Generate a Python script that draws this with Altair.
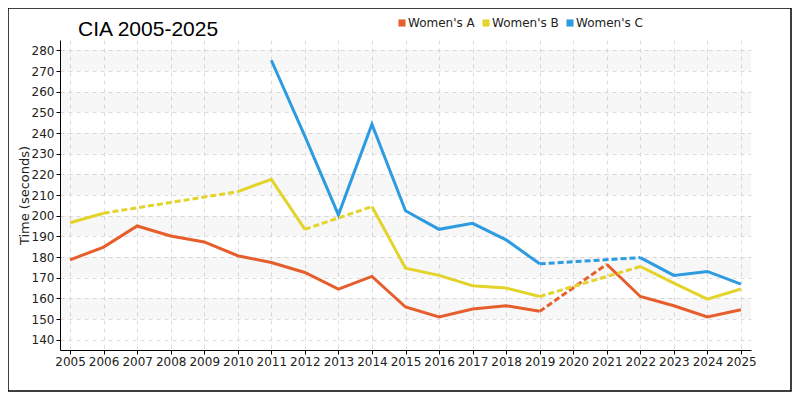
import altair as alt
import pandas as pd

years = list(range(2005, 2026))
series_names = ["Women's A", "Women's B", "Women's C"]
colors = ["#e65e2c", "#e3d42c", "#2d9be0"]
chart_title = "CIA 2005-2025"

women_a = [178.6, 184.8, 195.0, 190.2, 187.3, 180.6, 177.3, 172.5, 164.5, 170.6,
           155.8, 151.0, 154.8, 156.4, 153.7, None, 176.5, 160.9, 156.4, 151.0, 154.5]
women_b = [196.6, 201.2, None, None, None, 211.6, 217.6, 193.4, None, 204.4,
           174.6, 171.1, 166.1, 165.0, 160.9, None, None, 175.4, 167.4, 159.6, 164.5]
women_c = [None, None, None, None, None, None, 275.2, 238.5, 200.4, 244.3,
           202.4, 193.4, 196.3, 188.3, 176.7, None, None, 179.7, 171.1, 173.0, 166.9]

y_ticks = list(range(140, 290, 10))
band_lows = [150, 170, 190, 210, 230, 250, 270]

solid_rows, dash_rows = [], []
for name, vals in zip(series_names, [women_a, women_b, women_c]):
    seg = 0
    prev = None
    for i, v in enumerate(vals):
        if v is None:
            continue
        if prev is not None and i > prev + 1:
            seg += 1
            dash_rows.append({"year": years[prev], "value": vals[prev], "series": name, "seg": f"{name}-d{seg}"})
            dash_rows.append({"year": years[i], "value": v, "series": name, "seg": f"{name}-d{seg}"})
        solid_rows.append({"year": years[i], "value": v, "series": name, "seg": f"{name}-s{seg}"})
        prev = i

solid_df = pd.DataFrame(solid_rows)
dash_df = pd.DataFrame(dash_rows)
band_df = pd.DataFrame({"lo": band_lows, "hi": [b + 10 for b in band_lows]})

W, H = 691, 310

xscale = alt.Scale(domain=[2004.7, 2025.3], nice=False, zero=False)
yscale = alt.Scale(domain=[135, 285], nice=False, zero=False)
cscale = alt.Scale(domain=series_names, range=colors)

x_axis = alt.Axis(values=years, format="d", title=None, grid=True,
                  gridColor="#dddddd", gridDash=[4, 4], labelFlush=False,
                  labelOverlap=False)
y_axis = alt.Axis(values=y_ticks, title="Time (seconds)", grid=True,
                  gridColor="#dddddd", gridDash=[4, 4], labelOverlap=False)

X = alt.X("year:Q", scale=xscale, axis=x_axis)
Y = alt.Y("value:Q", scale=yscale, axis=y_axis)

legend = alt.Legend(title=None, orient="none", direction="horizontal",
                    legendX=336, legendY=-23, symbolType="square",
                    symbolSize=50, symbolOpacity=1, symbolStrokeWidth=0,
                    labelFontSize=12, labelFont="DejaVu Sans",
                    labelColor="#222222", columnPadding=5, labelOffset=0)

bands = alt.Chart(band_df).mark_rect(color="black", opacity=0.03).encode(
    x=alt.value(0), x2=alt.value(W),
    y=alt.Y("lo:Q", scale=yscale, axis=y_axis), y2="hi:Q",
)

legend_layer = alt.Chart(solid_df).mark_square(opacity=0, size=1, filled=True).encode(
    x=X, y=Y,
    color=alt.Color("series:N", scale=cscale, legend=legend),
)

solid = alt.Chart(solid_df).mark_line(strokeWidth=3).encode(
    x=X, y=Y,
    color=alt.Color("series:N", scale=cscale),
    detail="seg:N",
)

dashed = alt.Chart(dash_df).mark_line(strokeWidth=3, strokeDash=[6, 3]).encode(
    x=X, y=Y,
    color=alt.Color("series:N", scale=cscale),
    detail="seg:N",
)

title_layer = alt.Chart(pd.DataFrame({"t": [chart_title]})).mark_text(
    align="left", baseline="alphabetic", fontSize=21, font="Liberation Sans",
    color="black"
).encode(x=alt.value(18), y=alt.value(-4), text="t:N")

border = alt.Chart(pd.DataFrame({"a": [0]})).mark_rect(
    fill="transparent", stroke="black", strokeWidth=1.5
).encode(x=alt.value(-52), x2=alt.value(W + 40), y=alt.value(-32), y2=alt.value(H + 41))

chart = alt.layer(bands, legend_layer, solid, dashed, title_layer, border).properties(
    width=W, height=H,
    padding={"left": 52, "top": 32, "right": 41, "bottom": 42},
    autosize=alt.AutoSizeParams(type="none"),
).configure_view(stroke=None).configure_axis(
    labelFont="DejaVu Sans", labelFontSize=12, labelColor="#222222",
    titleFont="DejaVu Sans", titleFontSize=13, titleFontWeight="normal", titleColor="#222222",
    domainColor="black", tickColor="black", tickSize=4, labelPadding=2, titlePadding=0,
    labelOverlap=False,
)

chart.save("out.html", embed_options={"renderer": "svg", "actions": False})
